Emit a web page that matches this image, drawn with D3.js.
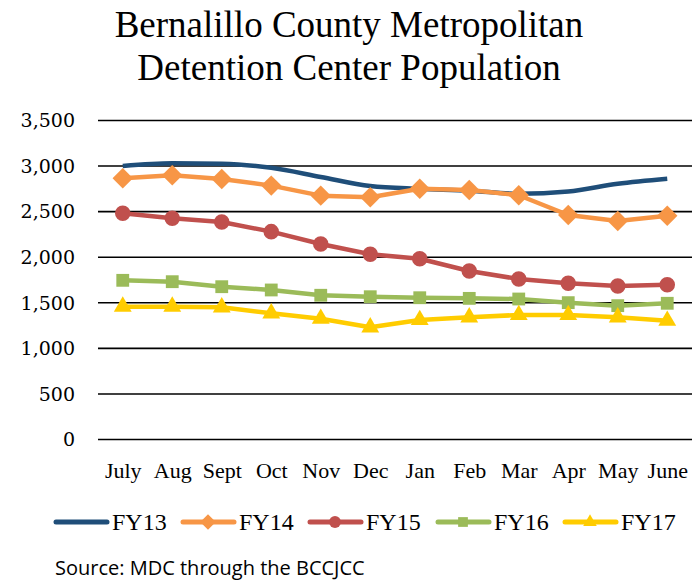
<!DOCTYPE html>
<html>
<head>
<meta charset="utf-8">
<script src="https://cdn.jsdelivr.net/npm/d3@7"></script>
<style>
  body { margin: 0; background: #fff; }
</style>
</head>
<body>
<div id="chart"></div>
<script>
// ===== data ==========================================================================
var months = ['July', 'Aug', 'Sept', 'Oct', 'Nov', 'Dec', 'Jan', 'Feb', 'Mar', 'Apr', 'May', 'June'];
var fy13 = [2995, 3025, 3020, 2975, 2875, 2775, 2745, 2725, 2690, 2715, 2800, 2855];
var fy14 = [2860, 2893, 2853, 2780, 2670, 2652, 2746, 2732, 2674, 2458, 2392, 2450];
var fy15 = [2476, 2421, 2381, 2275, 2140, 2027, 1978, 1843, 1755, 1708, 1679, 1693];
var fy16 = [1741, 1726, 1671, 1635, 1577, 1561, 1550, 1543, 1536, 1496, 1463, 1489];
var fy17 = [1452, 1452, 1445, 1379, 1320, 1226, 1306, 1335, 1361, 1361, 1335, 1298];
var yTicks = [0, 500, 1000, 1500, 2000, 2500, 3000, 3500];

var series = [
    {name: 'FY13', values: fy13, color: '#1F4E79', marker: null},
    {name: 'FY14', values: fy14, color: '#F79646', marker: 'diamond'},
    {name: 'FY15', values: fy15, color: '#C0504D', marker: 'circle'},
    {name: 'FY16', values: fy16, color: '#9BBB59', marker: 'square'},
    {name: 'FY17', values: fy17, color: '#FFCC00', marker: 'triangle'}
];

const serif = '"Liberation Serif", serif';

// ===== layout ========================================================================
const svgWidth = 700;
const svgHeight = 580;
const margin = {top: 120, right: 8, bottom: 141, left: 98};
const width = svgWidth - margin.left - margin.right;
const height = svgHeight - margin.top - margin.bottom;

const svg = d3.select('#chart').append('svg')
    .attr('width', svgWidth)
    .attr('height', svgHeight);

// title
const title = svg.append('text')
    .attr('text-anchor', 'middle')
    .style('font-family', serif)
    .style('font-size', '37px')
    .attr('fill', '#000');
title.append('tspan').attr('x', 349).attr('y', 37).text('Bernalillo County Metropolitan');
title.append('tspan').attr('x', 349).attr('y', 80).text('Detention Center Population');

const g = svg.append('g').attr('transform', `translate(${margin.left},${margin.top})`);

var x = d3.scalePoint().domain(months).range([0, width]).padding(0.5);
var y = d3.scaleLinear().domain([0, 3500]).range([height, 0]);

// gridlines
g.append('g')
    .call(d3.axisLeft(y).tickValues(yTicks).tickSize(-width).tickFormat(d3.format(',')))
    .call(a => a.select('.domain').remove())
    .call(a => a.selectAll('.tick line').attr('stroke', '#000').attr('stroke-width', 1.6))
    .call(a => a.selectAll('.tick text')
        .attr('x', -23)
        .attr('dy', '0.36em')
        .style('font-size', '19px')
        .style('font-family', '"DejaVu Serif", serif')
        .attr('fill', '#000'));

// x labels
g.append('g')
    .attr('transform', `translate(0,${height})`)
    .call(d3.axisBottom(x).tickSize(0))
    .call(a => a.select('.domain').remove())
    .call(a => a.selectAll('.tick text')
        .attr('dy', 0)
        .attr('y', 39)
        .style('font-size', '22px')
        .style('font-family', serif)
        .attr('fill', '#000'));

function markerPath(type, size) {
    if (type === 'diamond') return d3.symbol().type(d3.symbolDiamond2).size(size * 1.4)();
    if (type === 'circle') return d3.symbol().type(d3.symbolCircle).size(size)();
    if (type === 'square') return d3.symbol().type(d3.symbolSquare2).size(size * 1.1)();
    if (type === 'triangle') return d3.symbol().type(d3.symbolTriangle2).size(size * 1.2)();
    return null;
}

// lines
series.forEach(s => {
    var line = d3.line()
        .x((d, i) => x(months[i]))
        .y(d => y(d))
        .curve(s.marker ? d3.curveLinear : d3.curveMonotoneX);
    g.append('path')
        .datum(s.values)
        .attr('fill', 'none')
        .attr('stroke', s.color)
        .attr('stroke-width', 4.5)
        .attr('stroke-linejoin', 'round')
        .attr('d', line);
    if (s.marker) {
        g.selectAll(null)
            .data(s.values)
            .enter()
            .append('path')
            .attr('transform', (d, i) => `translate(${x(months[i])},${y(d)})`)
            .attr('d', markerPath(s.marker, 190))
            .attr('fill', s.color);
    }
});

// legend
var legX = [54, 181, 308, 436, 563];
var legend = svg.append('g');
series.forEach((s, i) => {
    var lg = legend.append('g').attr('transform', `translate(${legX[i]},522)`);
    lg.append('line')
        .attr('x1', 2).attr('x2', 53)
        .attr('stroke', s.color)
        .attr('stroke-width', 5)
        .attr('stroke-linecap', 'round');
    if (s.marker) {
        lg.append('path')
            .attr('transform', 'translate(27,0)')
            .attr('d', markerPath(s.marker, 110))
            .attr('fill', s.color);
    }
    lg.append('text')
        .attr('x', 58)
        .attr('y', 8)
        .style('font-size', '24px')
        .style('font-family', serif)
        .attr('fill', '#000')
        .text(s.name);
});

// source
svg.append('text')
    .attr('x', 55)
    .attr('y', 575)
    .style('font-size', '20px')
    .style('font-family', '"Open Sans", "Noto Sans", sans-serif')
    .attr('fill', '#000')
    .text('Source: MDC through the BCCJCC');
</script>
</body>
</html>
